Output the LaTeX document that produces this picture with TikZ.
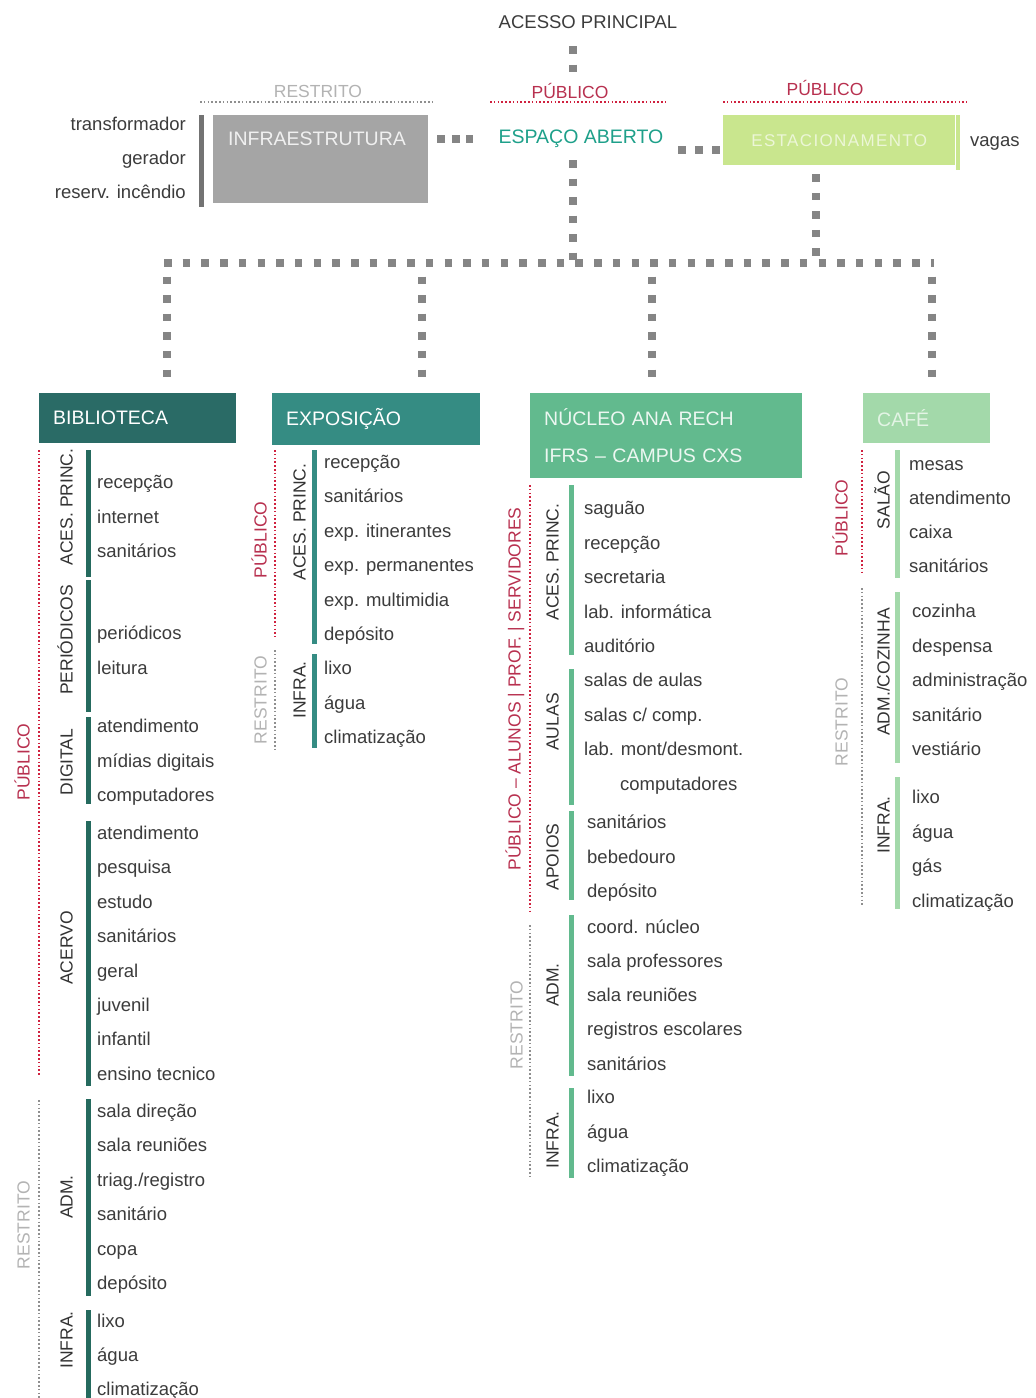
\documentclass[tikz,border=0pt]{standalone}
\usepackage{fontspec}
\setmainfont{Liberation Sans}
\definecolor{c1}{HTML}{2A6B66}
\definecolor{c1b}{HTML}{256A5E}
\definecolor{c2}{HTML}{358C83}
\definecolor{c3}{HTML}{62BA8E}
\definecolor{c4}{HTML}{A3D9AA}
\definecolor{cEst}{HTML}{C9E68E}
\definecolor{cInf}{HTML}{A5A5A5}
\definecolor{pubred}{HTML}{B8304F}
\definecolor{dotred}{HTML}{D0213F}
\definecolor{resgray}{HTML}{B3B3B3}
\definecolor{dotgray}{HTML}{8F8F8F}
\definecolor{sqgray}{HTML}{858585}
\definecolor{tealtxt}{HTML}{1EA08A}
\definecolor{itemc}{HTML}{3C3C3C}
\definecolor{catc}{HTML}{333333}
\begin{document}
\begin{tikzpicture}[x=1pt,y=-1pt,
  item/.style={anchor=west, inner sep=0pt, font=\fontsize{18.5}{20}\selectfont, text=itemc, text height=16pt, text depth=1pt},
  itemr/.style={item, anchor=east},
  cat/.style={rotate=90, inner sep=0pt, font=\fontsize{17.5}{20}\selectfont, text=catc, text height=13pt, text depth=0pt},
  pub/.style={cat, text=pubred},
  res/.style={cat, text=resgray},
  toplab/.style={inner sep=0pt, font=\fontsize{17.5}{20}\selectfont},
  pubdot/.style={draw=dotred, line width=2pt, dash pattern=on 1.6pt off 2.2pt},
  resdot/.style={draw=dotgray, line width=2pt, dash pattern=on 1.6pt off 2.2pt},
  sq/.style={draw=sqgray, line width=7.5pt, dash pattern=on 7.5pt off 11.2pt},
  bar/.style={line width=5pt},
  box/.style={anchor=north west, inner xsep=14pt, inner ysep=0pt, align=left, text=white, font=\fontsize{19.5}{37}\selectfont}
]
\useasboundingbox (0,0) rectangle (1036,1398);
\fill[white] (0,0) rectangle (1036,1398);

% ---------- top ----------
\node[inner sep=0pt, font=\fontsize{18.5}{20}\selectfont, text=itemc] (acc) at (588,22) {ACESSO PRINCIPAL};
\coordinate (a1) at (573,46);
\coordinate (a2) at (573,74);
\draw[sq] (a1) -- (a2);

\node[toplab, text=resgray] (resT) at (318,91) {RESTRITO};
\draw[resdot] (200,102) -- (432,102);
\node[toplab, text=pubred] (pubT1) at (570,91) {PÚBLICO};
\draw[pubdot] (490,102) -- (665,102);
\node[toplab, text=pubred] (pubT2) at (825,88) {PÚBLICO};
\draw[pubdot] (723,102) -- (967,102);

\node[anchor=north west, fill=cInf, minimum width=215pt, minimum height=88pt, inner sep=0pt] (infra) at (213,115) {};
\node[anchor=west, inner sep=0pt, font=\fontsize{19.5}{20}\selectfont, text=white!88!gray] (infraT) at (228,139) {INFRAESTRUTURA};
\draw[bar, draw=gray!90!black] (201.5,115) -- (201.5,207);
\node[itemr] (it1) at (186,123) {transformador};
\node[itemr] (it2) at (186,157) {gerador};
\node[itemr] (it3) at (186,191) {reserv. incêndio};

\node[inner sep=0pt, font=\fontsize{19.5}{20}\selectfont, text=tealtxt] (esp) at (581,139) {ESPAÇO ABERTO};

\node[anchor=north west, fill=cEst, minimum width=232pt, minimum height=50pt, inner sep=0pt,
      font=\fontsize{17}{20}\selectfont\addfontfeature{LetterSpace=8}, text=white!65!cEst] (estac) at (723,115) {ESTACIONAMENTO};
\draw[bar, line width=4pt, draw=cEst] (958,115) -- (958,170);
\node[item] (vag) at (970,139) {vagas};

% square connectors at top
\draw[sq, dash pattern=on 8pt off 6.5pt] ([xshift=9pt]infra.east |- esp.west) -- (473,139);
\draw[sq, dash pattern=on 8pt off 9pt] (678,150) -- (estac.west |- 0,150);
\coordinate (j0) at (573,263);
\draw[sq, dash pattern=on 7.5pt off 11pt] (esp.south -| j0) ++(0,12) -- (j0);
\coordinate (j1) at (816,263);
\draw[sq, dash pattern=on 7.5pt off 11pt] ([yshift=-9pt]estac.south -| j1) -- (j1);
\coordinate (tL) at (164,263);
\coordinate (tR) at (934,263);
\draw[sq] (tL) -- (tR);

% ---------- boxes ----------
\node[box, fill=c1, minimum width=197pt, minimum height=50pt, text width=169pt] (bib) at (39,393) {BIBLIOTECA};
\node[box, fill=c2, minimum width=208pt, minimum height=52pt, text width=180pt] (expo) at (272,393) {EXPOSIÇÃO};
\node[box, fill=c3, minimum width=272pt, minimum height=85pt, text width=244pt, text=white!88!c3] (nuc) at (530,393) {NÚCLEO ANA RECH\\IFRS – CAMPUS CXS};
\node[box, fill=c4, minimum width=127pt, minimum height=50pt, text width=99pt, text=white!70!c4] (cafe) at (863,393) {CAFÉ};

\coordinate (d1) at (167,263);
\coordinate (d2) at (422,263);
\coordinate (d3) at (652,263);
\coordinate (d4) at (932,263);
\draw[sq, dash pattern=on 7.5pt off 11.1pt] ([yshift=-13.5pt]d1) -- ([yshift=15pt]d1 |- bib.north);
\draw[sq, dash pattern=on 7.5pt off 11.1pt] ([yshift=-13.5pt]d2) -- ([yshift=15pt]d2 |- expo.north);
\draw[sq, dash pattern=on 7.5pt off 11.1pt] ([yshift=-13.5pt]d3) -- ([yshift=15pt]d3 |- nuc.north);
\draw[sq, dash pattern=on 7.5pt off 11.1pt] ([yshift=-13.5pt]d4) -- ([yshift=15pt]d4 |- cafe.north);

% ---------- column 1: BIBLIOTECA ----------
\draw[pubdot] (39,450) -- (39,1076);
\node[pub] (b-pub) at (23,762) {PÚBLICO};
\draw[resdot] (39,1100) -- (39,1398);
\node[res] (b-res) at (23,1225) {RESTRITO};

\draw[bar, draw=c1b] (88,450) -- (88,577);
\node[cat] (b-l1) at (66,507) {ACES. PRINC.};
\foreach \t [count=\i] in {recepção, internet, sanitários}
  \node[item] (b1-\i) at (97,446.5+\i*34.5) {\t};

\draw[bar, draw=c1b] (88,580) -- (88,712);
\node[cat] (b-l2) at (66,640) {PERIÓDICOS};
\foreach \t [count=\i] in {periódicos, leitura}
  \node[item] (b2-\i) at (97,597.5+\i*34.5) {\t};

\draw[bar, draw=c1b] (88,717) -- (88,804);
\node[cat] (b-l3) at (66,762) {DIGITAL};
\foreach \t [count=\i] in {atendimento, mídias digitais, computadores}
  \node[item] (b3-\i) at (97,690.5+\i*34.5) {\t};

\draw[bar, draw=c1b] (88,821) -- (88,1086);
\node[cat] (b-l4) at (66,948) {ACERVO};
\foreach \t [count=\i] in {atendimento, pesquisa, estudo, sanitários, geral, juvenil, infantil, ensino tecnico}
  \node[item] (b4-\i) at (97,797.6+\i*34.4) {\t};

\draw[bar, draw=c1b] (88,1099) -- (88,1296);
\node[cat] (b-l5) at (66,1197) {ADM.};
\foreach \t [count=\i] in {sala direção, sala reuniões, triag./registro, sanitário, copa, depósito}
  \node[item] (b5-\i) at (97,1075.6+\i*34.4) {\t};

\draw[bar, draw=c1b] (88,1310) -- (88,1398);
\node[cat] (b-l6) at (66,1340) {INFRA.};
\foreach \t [count=\i] in {lixo, água, climatização}
  \node[item] (b6-\i) at (97,1286+\i*34) {\t};

% ---------- column 2: EXPOSIÇÃO ----------
\draw[pubdot] (275,450) -- (275,637);
\node[pub] (e-pub) at (260,540) {PÚBLICO};
\draw[resdot] (275,650) -- (275,750);
\node[res] (e-res) at (260,700) {RESTRITO};

\draw[bar, draw=c2] (314,450) -- (314,644);
\node[cat] (e-l1) at (299,522) {ACES. PRINC.};
\foreach \t [count=\i] in {recepção, sanitários, exp. itinerantes, exp. permanentes, exp. multimidia, depósito}
  \node[item] (e1-\i) at (324,426.6+\i*34.4) {\t};

\draw[bar, draw=c2] (314,654) -- (314,748);
\node[cat] (e-l2) at (299,690) {INFRA.};
\foreach \t [count=\i] in {lixo, água, climatização}
  \node[item] (e2-\i) at (324,632.5+\i*34.5) {\t};

% ---------- column 3: NÚCLEO ----------
\draw[pubdot] (530,485) -- (530,912);
\node[pub] (n-pub) at (514,689) {PÚBLICO – ALUNOS | PROF. | SERVIDORES};
\draw[resdot] (530,925) -- (530,1178);
\node[res] (n-res) at (516,1025) {RESTRITO};

\draw[bar, draw=c3] (571,485) -- (571,655);
\node[cat] (n-l1) at (552,562) {ACES. PRINC.};
\foreach \t [count=\i] in {saguão, recepção, secretaria, lab. informática, auditório}
  \node[item] (n1-\i) at (584,472.5+\i*34.5) {\t};

\draw[bar, draw=c3] (571,669) -- (571,805);
\node[cat] (n-l2) at (552,722) {AULAS};
\foreach \t [count=\i] in {salas de aulas, salas c/ comp., lab. mont/desmont.}
  \node[item] (n2-\i) at (584,644.5+\i*34.5) {\t};
\node[item] (n2-4) at (620,783) {computadores};

\draw[bar, draw=c3] (571,811) -- (571,900);
\node[cat] (n-l3) at (552,857) {APOIOS};
\foreach \t [count=\i] in {sanitários, bebedouro, depósito}
  \node[item] (n3-\i) at (587,786.5+\i*34.5) {\t};

\draw[bar, draw=c3] (571,915) -- (571,1076);
\node[cat] (n-l4) at (552,985) {ADM.};
\foreach \t [count=\i] in {coord. núcleo, sala professores, sala reuniões, registros escolares, sanitários}
  \node[item] (n4-\i) at (587,891.6+\i*34.2) {\t};

\draw[bar, draw=c3] (571,1088) -- (571,1178);
\node[cat] (n-l5) at (552,1140) {INFRA.};
\foreach \t [count=\i] in {lixo, água, climatização}
  \node[item] (n5-\i) at (587,1061.5+\i*34.5) {\t};

% ---------- column 4: CAFÉ ----------
\draw[pubdot] (862,450) -- (862,575);
\node[pub] (c-pub) at (841,518) {PÚBLICO};
\draw[resdot] (862,588) -- (862,905);
\node[res] (c-res) at (841,722) {RESTRITO};

\draw[bar, draw=c4] (897,450) -- (897,578);
\node[cat] (c-l1) at (883,500) {SALÃO};
\foreach \t [count=\i] in {mesas, atendimento, caixa, sanitários}
  \node[item] (c1-\i) at (909,429+\i*34) {\t};

\draw[bar, draw=c4] (897,592) -- (897,763);
\node[cat] (c-l2) at (883,672) {ADM./COZINHA};
\foreach \t [count=\i] in {cozinha, despensa, administração, sanitário, vestiário}
  \node[item] (c2-\i) at (912,575.5+\i*34.5) {\t};

\draw[bar, draw=c4] (897,777) -- (897,909);
\node[cat] (c-l3) at (883,825) {INFRA.};
\foreach \t [count=\i] in {lixo, água, gás, climatização}
  \node[item] (c3-\i) at (912,761.5+\i*34.5) {\t};
\end{tikzpicture}
\end{document}
